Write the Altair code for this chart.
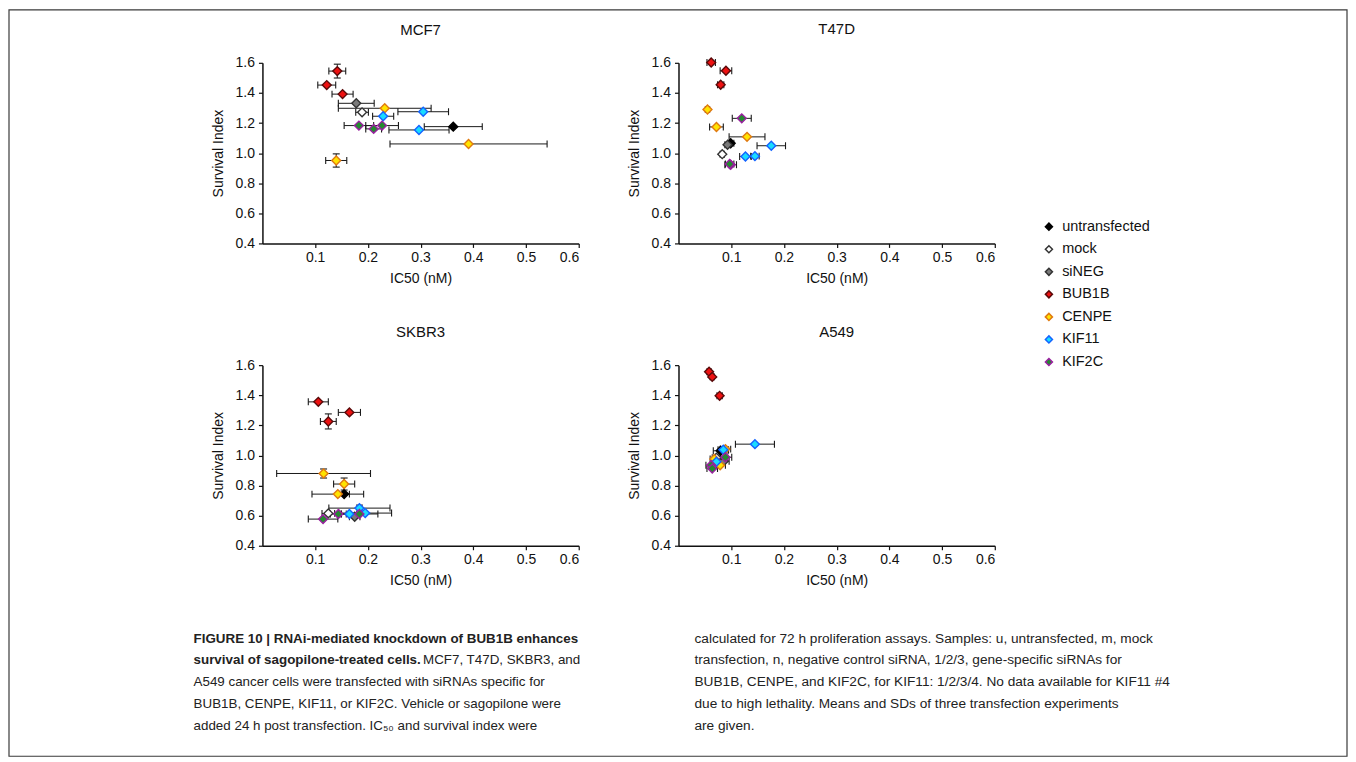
import altair as alt
import pandas as pd

FONT = "Liberation Sans, Arial, Helvetica, sans-serif"
CAPFONT = "Liberation Sans Narrow, Arial Narrow, Liberation Sans, sans-serif"
INK = "#111111"

samples = ["untransfected", "mock", "siNEG", "BUB1B", "CENPE", "KIF11", "KIF2C"]
fills = ["#000000", "#ffffff", "#7a7a7a", "#ee1111", "#ffe400", "#19dcff", "#248a30"]
strokes = ["#000000", "#333333", "#333333", "#5a0a0a", "#e07a10", "#1463ff", "#9a20a0"]

point_samples = ["untransfected", "mock", "siNEG",
                 "BUB1B", "BUB1B", "BUB1B",
                 "CENPE", "CENPE", "CENPE",
                 "KIF11", "KIF11", "KIF11",
                 "KIF2C", "KIF2C", "KIF2C"]

# MCF7
mcf7_ic50 = [0.362, 0.189, 0.178, 0.142, 0.122, 0.152, 0.232, 0.391, 0.140, 0.305, 0.229, 0.297, 0.183, 0.227, 0.211]
mcf7_ic50_sd = [0.055, 0.012, 0.034, 0.016, 0.017, 0.020, 0.088, 0.149, 0.020, 0.048, 0.020, 0.057, 0.028, 0.031, 0.015]
mcf7_si = [1.176, 1.271, 1.331, 1.545, 1.452, 1.392, 1.298, 1.061, 0.951, 1.275, 1.245, 1.154, 1.183, 1.183, 1.161]
mcf7_si_sd = [0, 0, 0, 0.046, 0, 0, 0, 0, 0.044, 0, 0, 0, 0, 0, 0]

# T47D
t47d_ic50 = [0.099, 0.083, 0.093, 0.062, 0.090, 0.080, 0.055, 0.072, 0.130, 0.176, 0.127, 0.145, 0.120, 0.099, 0.097]
t47d_ic50_sd = [0.006, 0.004, 0.005, 0.008, 0.011, 0.006, 0.004, 0.013, 0.034, 0.027, 0.011, 0.008, 0.018, 0.011, 0.008]
t47d_si = [1.066, 0.993, 1.055, 1.602, 1.547, 1.454, 1.290, 1.174, 1.108, 1.049, 0.978, 0.980, 1.231, 0.923, 0.928]
t47d_si_sd = [0] * 15

# SKBR3
skbr3_ic50 = [0.155, 0.125, 0.175, 0.106, 0.165, 0.125, 0.116, 0.155, 0.143, 0.184, 0.195, 0.165, 0.144, 0.184, 0.115]
skbr3_ic50_sd = [0.010, 0.012, 0.010, 0.019, 0.021, 0.015, 0.089, 0.020, 0.049, 0.058, 0.050, 0.015, 0.015, 0.035, 0.028]
skbr3_si = [0.743, 0.615, 0.593, 1.356, 1.286, 1.226, 0.880, 0.810, 0.743, 0.650, 0.617, 0.611, 0.611, 0.611, 0.577]
skbr3_si_sd = [0, 0, 0, 0, 0, 0.05, 0.03, 0.04, 0, 0.02, 0, 0, 0, 0, 0]

# A549
a549_ic50 = [0.080, 0.072, 0.086, 0.058, 0.064, 0.078, 0.089, 0.068, 0.079, 0.145, 0.085, 0.072, 0.089, 0.062, 0.064]
a549_ic50_sd = [0.014, 0.008, 0.010, 0.004, 0.004, 0.005, 0.010, 0.008, 0.010, 0.037, 0.010, 0.010, 0.012, 0.010, 0.010]
a549_si = [1.031, 0.985, 0.962, 1.556, 1.522, 1.396, 1.042, 0.976, 0.935, 1.075, 1.038, 0.958, 0.988, 0.935, 0.913]
a549_si_sd = [0] * 15

panels = {
    "MCF7": (mcf7_ic50, mcf7_ic50_sd, mcf7_si, mcf7_si_sd),
    "T47D": (t47d_ic50, t47d_ic50_sd, t47d_si, t47d_si_sd),
    "SKBR3": (skbr3_ic50, skbr3_ic50_sd, skbr3_si, skbr3_si_sd),
    "A549": (a549_ic50, a549_ic50_sd, a549_si, a549_si_sd),
}

x_ticks = [0.1, 0.2, 0.3, 0.4, 0.5, 0.6]
y_ticks = [0.4, 0.6, 0.8, 1.0, 1.2, 1.4, 1.6]

caption_left = [
    "FIGURE 10 | RNAi-mediated knockdown of BUB1B enhances",
    "survival of sagopilone-treated cells.",
    "A549 cancer cells were transfected with siRNAs specific for",
    "BUB1B, CENPE, KIF11, or KIF2C. Vehicle or sagopilone were",
    "added 24 h post transfection. IC\u2085\u2080 and survival index were",
]
caption_left_tail = "MCF7, T47D, SKBR3, and"
caption_right = [
    "calculated for 72 h proliferation assays. Samples: u, untransfected, m, mock",
    "transfection, n, negative control siRNA, 1/2/3, gene-specific siRNAs for",
    "BUB1B, CENPE, and KIF2C, for KIF11: 1/2/3/4. No data available for KIF11 #4",
    "due to high lethality. Means and SDs of three transfection experiments",
    "are given.",
]

rows = []
for pname, (xs_, xsd, ys_, ysd) in panels.items():
    for i, s in enumerate(point_samples):
        rows.append({
            "panel": pname, "sample": s, "idx": i,
            "x": xs_[i], "xlo": xs_[i] - xsd[i], "xhi": xs_[i] + xsd[i],
            "y": ys_[i], "ylo": ys_[i] - ysd[i], "yhi": ys_[i] + ysd[i], "ysd": ysd[i],
        })
df = pd.DataFrame(rows)

EB = "#1a1a1a"
legend = alt.Legend(orient="none", legendX=781, legendY=157, title=None,
                    symbolType="diamond", symbolSize=50, symbolStrokeWidth=1.5,
                    labelFontSize=14.5, labelFont=FONT, labelColor=INK,
                    labelOffset=6, rowPadding=7.6, padding=0)

xaxis = alt.Axis(values=x_ticks, format=".1f", title="IC50 (nM)", grid=False)
yaxis = alt.Axis(values=y_ticks, format=".1f", title="Survival Index", grid=False)
xs = alt.Scale(domain=[0, 0.6], nice=False, zero=False)
ys = alt.Scale(domain=[0.4, 1.6], nice=False, zero=False)


def panel(name):
    base = alt.Chart(df[df.panel == name])
    xr = base.mark_rule(color=EB, strokeWidth=1).encode(
        x=alt.X("xlo:Q", scale=xs, axis=xaxis), x2="xhi:Q",
        y=alt.Y("y:Q", scale=ys, axis=yaxis))
    xc = base.transform_fold(["xlo", "xhi"], as_=["end", "xc"]).mark_point(
        shape="M0,-1L0,1", size=49, stroke=EB, strokeWidth=1.1, opacity=1).encode(
        x=alt.X("xc:Q", scale=xs, axis=xaxis), y=alt.Y("y:Q", scale=ys, axis=yaxis))
    yb = base.transform_filter("datum.ysd > 0")
    yr = yb.mark_rule(color=EB, strokeWidth=1).encode(
        x=alt.X("x:Q", scale=xs, axis=xaxis),
        y=alt.Y("ylo:Q", scale=ys, axis=yaxis), y2="yhi:Q")
    yc = yb.transform_fold(["ylo", "yhi"], as_=["end", "yc"]).mark_point(
        shape="M-1,0L1,0", size=49, stroke=EB, strokeWidth=1.1, opacity=1).encode(
        x=alt.X("x:Q", scale=xs, axis=xaxis), y=alt.Y("yc:Q", scale=ys, axis=yaxis))
    pts = base.mark_point(shape="diamond", filled=True, size=80, strokeWidth=1.4, opacity=1).encode(
        x=alt.X("x:Q", scale=xs, axis=xaxis),
        y=alt.Y("y:Q", scale=ys, axis=yaxis),
        fill=alt.Fill("sample:N", scale=alt.Scale(domain=samples, range=fills), legend=legend),
        stroke=alt.Stroke("sample:N", scale=alt.Scale(domain=samples, range=strokes), legend=legend),
    )
    return alt.layer(xr, xc, yr, yc, pts).properties(
        width=317, height=181, title=alt.TitleParams(name))


one = pd.DataFrame({"k": [0]})
cap_layers = [
    alt.Chart(one).mark_rect(fill="transparent", stroke="#3a3a3a", strokeWidth=1.2).encode(
        x=alt.value(-254), x2=alt.value(1087), y=alt.value(-659), y2=alt.value(89))
]
line_y = [-29, -7, 15, 37, 59]
LEFT_FS = 13.4
RIGHT_FS = 13.7
for i, t in enumerate(caption_left):
    cap_layers.append(alt.Chart(one).mark_text(
        text=t, align="left", baseline="middle", font=CAPFONT, fontSize=LEFT_FS,
        fontWeight="bold" if i < 2 else "normal", color="#222222").encode(
        x=alt.value(-69), y=alt.value(line_y[i])))
cap_layers.append(alt.Chart(one).mark_text(
    text=caption_left_tail, align="left", baseline="middle", font=CAPFONT, fontSize=LEFT_FS,
    color="#222222").encode(x=alt.value(161), y=alt.value(line_y[1])))
for i, t in enumerate(caption_right):
    cap_layers.append(alt.Chart(one).mark_text(
        text=t, align="left", baseline="middle", font=CAPFONT, fontSize=RIGHT_FS,
        color="#222222").encode(x=alt.value(433), y=alt.value(line_y[i])))
caption = alt.layer(*cap_layers).properties(width=317, height=181)

chart = alt.concat(
    panel("MCF7"), panel("T47D"), panel("SKBR3"), panel("A549"), caption,
    columns=2, spacing={"row": 122, "column": 100}, bounds="flush",
).resolve_scale(fill="shared", stroke="shared").properties(padding=0).configure_view(
    strokeWidth=0
).configure_axis(
    labelFont=FONT, titleFont=FONT, labelFontSize=14, titleFontSize=14,
    titleFontWeight="normal", labelColor=INK, titleColor=INK,
    domainColor=INK, tickColor=INK, domainWidth=1.5, tickWidth=1.2, tickSize=4,
    labelPadding=3, grid=False,
).configure_axisX(titlePadding=7).configure_axisY(titlePadding=10, labelPadding=4).configure_title(
    font=FONT, fontSize=15, fontWeight="normal", color=INK, offset=18, frame="group", anchor="middle"
)

chart.save("out.html", embed_options={"renderer": "svg", "actions": False})
